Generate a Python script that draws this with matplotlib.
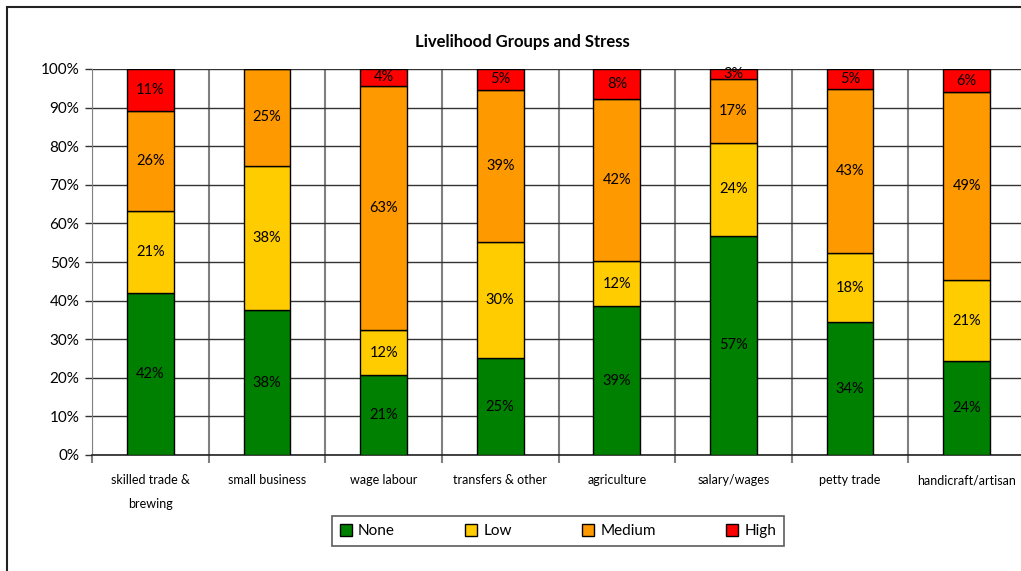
import matplotlib
matplotlib.use("Agg")
import matplotlib.pyplot as plt
import matplotlib.patches as mpatches
import numpy as np

plt.rcParams["font.family"] = ["Lato", "DejaVu Sans"]

categories = ["skilled trade &\nbrewing", "small business", "wage labour",
              "transfers & other", "agriculture", "salary/wages",
              "petty trade", "handicraft/artisan"]
none_vals = [42.0, 37.5, 20.6, 25.1, 38.6, 56.8, 34.4, 24.3]
low_vals = [21.2, 37.5, 11.9, 30.1, 11.6, 24.0, 17.9, 21.0]
medium_vals = [26.0, 25.0, 63.1, 39.4, 42.0, 16.6, 42.6, 48.7]
high_vals = [10.8, 0.0, 4.4, 5.4, 7.8, 2.6, 5.1, 6.0]

series = [("None", none_vals, "#008000"),
          ("Low", low_vals, "#FFCC00"),
          ("Medium", medium_vals, "#FF9900"),
          ("High", high_vals, "#FF0000")]

fig = plt.figure(figsize=(10.21, 5.71), dpi=100)
# outer chart border
fig.patches.append(mpatches.Rectangle((7 / 1021, -0.05), 1.2, 1 - 7 / 571 + 0.05,
                                      transform=fig.transFigure, fill=False,
                                      edgecolor="#222222", linewidth=1.5))

ax = fig.add_axes([92 / 1021, 1 - 455 / 571, (1025 - 92) / 1021, (455 - 69) / 571])
x = np.arange(len(categories))
bottom = np.zeros(len(categories))
handles = []
for name, vals, col in series:
    vals = np.array(vals)
    ax.bar(x, vals, 0.4, bottom=bottom, color=col, edgecolor="black",
           linewidth=1.0, zorder=3)
    for xi, b, v in zip(x, bottom, vals):
        if v > 0:
            ax.text(xi, b + v / 2, f"{v:.0f}%", ha="center", va="center",
                    fontsize=10.5, color="black", zorder=4)
    bottom += vals
    handles.append(mpatches.Patch(facecolor=col, edgecolor="black", linewidth=1.0, label=name))

ax.set_xlim(-0.5, len(categories) - 0.5)
ax.set_ylim(0, 100)
ax.set_yticks(np.arange(0, 101, 10))
ax.set_yticklabels([f"{v}%" for v in range(0, 101, 10)], fontsize=11)
ax.yaxis.grid(True, color="#333333", linewidth=1.0, zorder=0)
ax.tick_params(axis="y", length=5, width=1, color="#333333", pad=4)

# category boundaries as ticks + vertical gridlines
ax.set_xticks(np.arange(-0.5, len(categories), 1.0))
ax.set_xticklabels([])
ax.xaxis.grid(True, color="#808080", linewidth=1.5, zorder=0)
ax.tick_params(axis="x", which="major", length=6, width=1.5, color="#808080")
ax.set_xticks(x, minor=True)
ax.set_xticklabels(categories, minor=True, fontsize=9, linespacing=2.2)
ax.tick_params(axis="x", which="minor", length=0, pad=14)

for side in ["top", "right"]:
    ax.spines[side].set_visible(False)
ax.spines["left"].set_color("#808080")
ax.spines["bottom"].set_color("#222222")
ax.spines["bottom"].set_linewidth(1.2)

fig.text(522 / 1021, 1 - 42 / 571, "Livelihood Groups and Stress", ha="center",
         va="center", fontsize=12, fontweight="bold")

leg = fig.legend(handles=handles, loc="center", bbox_to_anchor=(558 / 1021, 1 - 531 / 571),
                 ncol=4, fontsize=11, frameon=True, fancybox=False, edgecolor="#333333",
                 handlelength=0.8, handleheight=0.8, handletextpad=0.4,
                 columnspacing=4.6, borderpad=0.5, borderaxespad=0)
leg.get_frame().set_linewidth(1.2)

fig.savefig("out.png", dpi=100)
